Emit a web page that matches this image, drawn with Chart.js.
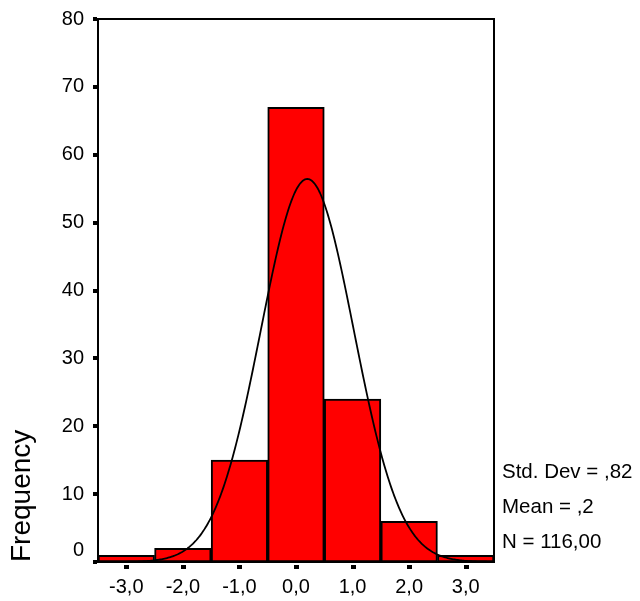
<!DOCTYPE html>
<html>
<head>
<meta charset="utf-8">
<style>
  html, body { margin: 0; padding: 0; background: #fff; }
  #wrap { width: 640px; height: 601px; }
</style>
<script src="https://cdn.jsdelivr.net/npm/chart.js@4/dist/chart.umd.min.js"></script>
</head>
<body>
<div id="wrap"><canvas id="hist" width="640" height="601"></canvas></div>
<script>
// Histogram bins (centre of each unit-wide bin) and their counts
const binCenters = [-3, -2, -1, 0, 1, 2, 3];
const frequencies = [1, 2, 15, 67, 24, 6, 1];

// Axis ticks
const xTickValues = [-3, -2, -1, 0, 1, 2, 3];
const xTickLabels = ['-3,0', '-2,0', '-1,0', '0,0', '1,0', '2,0', '3,0'];
const yTickValues = [0, 10, 20, 30, 40, 50, 60, 70, 80];
const yTickLabels = ['0', '10', '20', '30', '40', '50', '60', '70', '80'];

// Summary statistics shown beside the plot
const statLines = ['Std. Dev = ,82', 'Mean = ,2', 'N = 116,00'];
const stdDev = 0.82;
const mean = 0.2;
const n = 116;
const binWidth = 1;
const xRange = [-3.5, 3.5];

// Normal curve fitted from the summary statistics, scaled to counts per bin
const curvePoints = [];
for (let x = xRange[0]; x <= xRange[1] + 1e-9; x += 0.02) {
  const z = (x - mean) / stdDev;
  const y = n * binWidth / (stdDev * Math.sqrt(2 * Math.PI)) * Math.exp(-0.5 * z * z);
  curvePoints.push({ x: x, y: y });
}

const FONT = '"Liberation Sans", Arial, Helvetica, sans-serif';

// Frame around the plot, square tick marks and the statistics text
const framePlugin = {
  id: 'frame',
  afterDraw(chart) {
    const { ctx, chartArea: a, scales } = chart;
    ctx.save();
    ctx.strokeStyle = '#000';
    ctx.lineWidth = 2;
    ctx.strokeRect(a.left, a.top, a.right - a.left, a.bottom - a.top);
    ctx.fillStyle = '#000';
    yTickValues.forEach(v => {
      const py = Math.round(scales.y.getPixelForValue(v));
      ctx.fillRect(a.left - 5, py - 2, 4, 4);
    });
    xTickValues.forEach(v => {
      const px = Math.round(scales.x.getPixelForValue(v));
      ctx.fillRect(px - 2, a.bottom + 3, 5, 4);
    });
    ctx.font = '20.5px ' + FONT;
    ctx.textAlign = 'left';
    ctx.textBaseline = 'alphabetic';
    statLines.forEach((s, i) => {
      ctx.fillText(s, a.right + 8, a.bottom - 84 + i * 35);
    });
    ctx.restore();
  }
};

new Chart(document.getElementById('hist'), {
  type: 'bar',
  data: {
    datasets: [
      {
        type: 'line',
        data: curvePoints,
        borderColor: '#000',
        borderWidth: 1.8,
        pointRadius: 0,
        tension: 0,
        fill: false,
        order: 0
      },
      {
        type: 'bar',
        data: binCenters.map((c, i) => ({ x: c, y: frequencies[i] })),
        backgroundColor: '#ff0000',
        borderColor: '#000',
        borderWidth: 2,
        borderSkipped: false,
        barPercentage: 1,
        categoryPercentage: 1,
        order: 1
      }
    ]
  },
  options: {
    responsive: false,
    animation: false,
    devicePixelRatio: 1,
    layout: { padding: { top: 19, right: 146, left: 0, bottom: 0 } },
    plugins: { legend: { display: false }, tooltip: { enabled: false } },
    scales: {
      x: {
        type: 'linear',
        offset: false,
        min: xRange[0],
        max: xRange[1],
        grid: { display: false, drawTicks: false, offset: false },
        border: { display: false },
        afterBuildTicks(scale) { scale.ticks = xTickValues.map(v => ({ value: v })); },
        afterFit(scale) { scale.height = 39; scale.paddingLeft = 0; scale.paddingRight = 0; },
        ticks: {
          padding: 13,
          color: '#000',
          font: { family: FONT, size: 20 },
          maxRotation: 0,
          autoSkip: false,
          callback: (v, i) => xTickLabels[i]
        }
      },
      y: {
        min: 0,
        max: 80,
        grid: { display: false, drawTicks: false },
        border: { display: false },
        afterBuildTicks(scale) { scale.ticks = yTickValues.map(v => ({ value: v })); },
        afterFit(scale) { scale.width = 98; scale.paddingTop = 0; scale.paddingBottom = 0; },
        ticks: {
          padding: 14,
          color: '#000',
          font: { family: FONT, size: 20 },
          autoSkip: false,
          // the zero label sits a little above its tick
          callback: (v, i) => (i === 0 ? [yTickLabels[i], ''] : yTickLabels[i])
        },
        title: {
          display: true,
          text: 'Frequency',
          align: 'start',
          color: '#000',
          font: { family: FONT, size: 28 },
          padding: { top: 5, bottom: 0 }
        }
      }
    }
  },
  plugins: [framePlugin]
});
</script>
</body>
</html>
